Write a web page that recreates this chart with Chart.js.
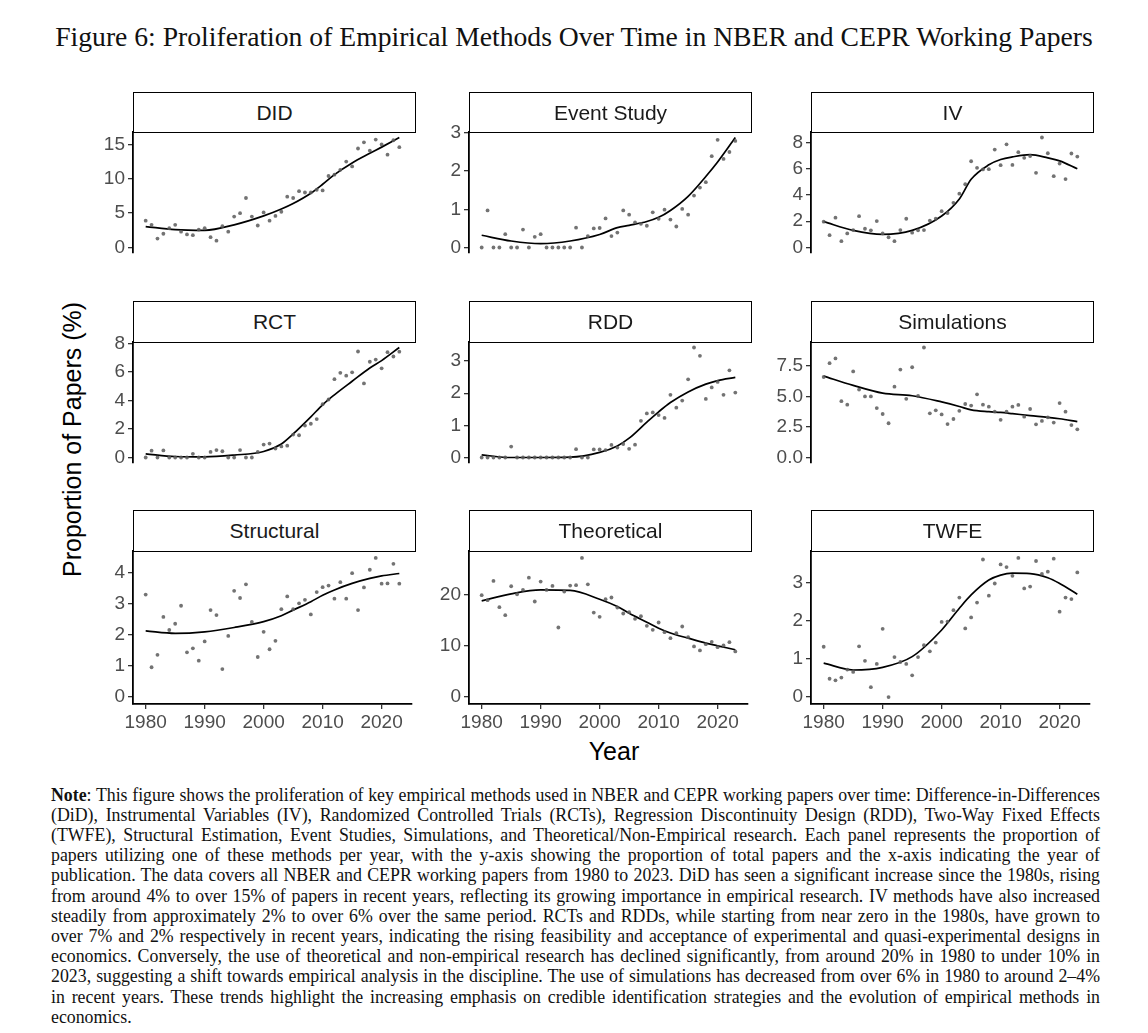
<!DOCTYPE html>
<html>
<head>
<meta charset="utf-8">
<script src="https://cdn.jsdelivr.net/npm/chart.js@4.4.1/dist/chart.umd.min.js"></script>
<style>
  body { margin: 0; background: #fff; width: 1148px; height: 1033px; position: relative; overflow: hidden; font-family: 'Liberation Sans', Arial, sans-serif; }
  #title { position: absolute; left: 0; width: 1148px; text-align: center; white-space: nowrap; font-family: 'Liberation Serif', serif; color: #111; }
  .strip { position: absolute; box-sizing: border-box; border: 1.6px solid #000; background: #fff; display: flex; align-items: center; justify-content: center; font-size: 21px; color: #1a1a1a; z-index: 2; }
  .panel { position: absolute; z-index: 1; }
  #ytitle { position: absolute; left: 60px; top: 577px; transform-origin: 0 0; transform: rotate(-90deg); font-size: 25px; line-height: 25px; white-space: nowrap; color: #000; }
  #xtitle { position: absolute; left: 514px; width: 200px; top: 739px; text-align: center; font-size: 25px; line-height: 25px; color: #000; }
  #note { position: absolute; left: 51px; width: 1049px; font-family: 'Liberation Serif', serif; color: #111; }
  #note div { text-align: justify; text-align-last: justify; white-space: normal; }
  #note div.last { text-align-last: left; }
</style>
</head>
<body>
<div id="title">Figure 6: Proliferation of Empirical Methods Over Time in NBER and CEPR Working Papers</div>
<div id="ytitle">Proportion of Papers (%)</div>
<div id="xtitle">Year</div>
<div id="note">
  <div><b>Note</b>: This figure shows the proliferation of key empirical methods used in NBER and CEPR working papers over time: Difference-in-Differences</div>
  <div>(DiD), Instrumental Variables (IV), Randomized Controlled Trials (RCTs), Regression Discontinuity Design (RDD), Two-Way Fixed Effects</div>
  <div>(TWFE), Structural Estimation, Event Studies, Simulations, and Theoretical/Non-Empirical research. Each panel represents the proportion of</div>
  <div>papers utilizing one of these methods per year, with the y-axis showing the proportion of total papers and the x-axis indicating the year of</div>
  <div>publication. The data covers all NBER and CEPR working papers from 1980 to 2023. DiD has seen a significant increase since the 1980s, rising</div>
  <div>from around 4% to over 15% of papers in recent years, reflecting its growing importance in empirical research. IV methods have also increased</div>
  <div>steadily from approximately 2% to over 6% over the same period. RCTs and RDDs, while starting from near zero in the 1980s, have grown to</div>
  <div>over 7% and 2% respectively in recent years, indicating the rising feasibility and acceptance of experimental and quasi-experimental designs in</div>
  <div>economics. Conversely, the use of theoretical and non-empirical research has declined significantly, from around 20% in 1980 to under 10% in</div>
  <div>2023, suggesting a shift towards empirical analysis in the discipline. The use of simulations has decreased from over 6% in 1980 to around 2–4%</div>
  <div>in recent years. These trends highlight the increasing emphasis on credible identification strategies and the evolution of empirical methods in</div>
  <div class="last">economics.</div>
</div>
<script>
const years = [1980, 1981, 1982, 1983, 1984, 1985, 1986, 1987, 1988, 1989,
               1990, 1991, 1992, 1993, 1994, 1995, 1996, 1997, 1998, 1999,
               2000, 2001, 2002, 2003, 2004, 2005, 2006, 2007, 2008, 2009,
               2010, 2011, 2012, 2013, 2014, 2015, 2016, 2017, 2018, 2019,
               2020, 2021, 2022, 2023];
const fitYears = [1980, 1985, 1990, 1995, 2000, 2003, 2005, 2008, 2010, 2012, 2015, 2018, 2020, 2023];
const xTicks = [1980, 1990, 2000, 2010, 2020];

// yearly share of papers (%), one list per method
const didShare = [3.9, 3.3, 1.3, 2.0, 2.8, 3.3, 2.3, 1.9, 1.8, 2.6,
                  2.8, 1.5, 1.0, 3.1, 2.3, 4.5, 5.0, 7.2, 4.5, 3.2,
                  5.1, 3.9, 4.6, 5.2, 7.4, 7.2, 8.2, 8.0, 8.0, 8.4,
                  8.3, 10.4, 10.6, 11.3, 12.5, 11.8, 14.4, 15.3, 14.1, 15.7,
                  15.0, 13.5, 15.6, 14.6];
const eventShare = [0, 0.97, 0, 0, 0.35, 0, 0, 0.47, 0, 0.28,
                    0.35, 0, 0, 0, 0, 0, 0.52, 0, 0.3, 0.5,
                    0.51, 0.76, 0.3, 0.39, 0.97, 0.86, 0.66, 0.62, 0.57, 0.92,
                    0.75, 0.99, 0.73, 0.55, 1.01, 0.86, 1.36, 1.57, 1.71, 2.39,
                    2.82, 2.32, 2.5, 2.79];
const ivShare = [1.97, 0.94, 2.27, 0.48, 1.07, 1.33, 2.39, 1.43, 1.31, 2.01,
                 1.07, 0.78, 0.48, 1.33, 2.19, 1.13, 1.31, 1.33, 2.05, 2.19,
                 2.77, 2.63, 3.4, 4.1, 4.82, 6.57, 6.07, 5.95, 5.97, 7.46,
                 6.27, 7.86, 6.29, 7.26, 6.83, 6.97, 5.69, 8.38, 7.18, 5.43,
                 6.39, 5.21, 7.16, 6.93];
const rctShare = [0, 0.48, 0, 0.5, 0, 0, 0, 0, 0.26, 0,
                  0, 0.39, 0.52, 0.44, 0, 0, 0.52, 0, 0, 0.39,
                  0.91, 0.98, 0.63, 0.78, 0.83, 1.61, 1.56, 2.24, 2.37, 2.7,
                  3.74, 4.07, 5.5, 5.94, 5.74, 5.98, 7.44, 5.2, 6.72, 6.87,
                  6.26, 7.39, 7.09, 7.43];
const rddShare = [0, 0, 0, 0, 0, 0.34, 0, 0, 0, 0,
                  0, 0, 0, 0, 0, 0, 0.26, 0, 0, 0.25,
                  0.25, 0.23, 0.39, 0.31, 0.42, 0.27, 0.4, 1.14, 1.37, 1.4,
                  1.32, 1.23, 1.95, 1.55, 1.77, 2.43, 3.42, 3.16, 1.82, 2.18,
                  2.35, 1.95, 2.71, 2.02];
const simShare = [6.61, 7.74, 8.13, 4.62, 4.34, 7.07, 5.58, 5.01, 5.01, 4.06,
                  3.57, 2.81, 5.81, 7.22, 4.82, 7.41, 5.05, 9.03, 3.63, 3.87,
                  3.54, 2.74, 3.16, 3.83, 4.39, 4.26, 5.19, 4.34, 4.17, 3.76,
                  3.09, 3.76, 4.17, 4.32, 3.35, 3.98, 2.72, 3.0, 3.3, 2.87,
                  4.47, 3.76, 2.66, 2.31];
const structShare = [3.3, 0.96, 1.36, 2.58, 2.16, 2.36, 2.94, 1.44, 1.57, 1.17,
                     1.79, 2.8, 2.64, 0.9, 1.97, 3.42, 3.19, 3.63, 2.42, 1.29,
                     2.1, 1.54, 1.81, 2.83, 3.24, 2.83, 3.02, 3.13, 2.66, 3.38,
                     3.54, 3.59, 3.17, 3.7, 3.17, 3.99, 2.8, 3.53, 4.1, 4.48,
                     3.65, 3.66, 4.29, 3.65];
const theoShare = [19.87, 18.9, 22.66, 17.53, 15.97, 21.62, 20.06, 20.9, 23.3, 18.64,
                   22.53, 20.9, 21.69, 13.57, 20.58, 21.75, 21.82, 27.14, 22.0, 16.49,
                   15.65, 19.09, 19.42, 17.47, 16.3, 16.56, 15.26, 15.78, 13.9, 13.12,
                   14.55, 12.66, 11.49, 12.47, 13.77, 11.69, 9.87, 9.09, 10.32, 10.78,
                   9.74, 10.06, 10.71, 8.9];
const twfeShare = [1.32, 0.48, 0.44, 0.51, 0.72, 0.66, 1.33, 0.95, 0.26, 0.87,
                   1.79, 0, 1.05, 0.92, 0.87, 0.57, 1.05, 1.36, 1.2, 1.43,
                   1.97, 1.98, 2.28, 2.61, 1.8, 2.09, 2.48, 3.61, 2.66, 2.98,
                   3.48, 3.41, 3.18, 3.65, 2.85, 2.9, 3.57, 3.23, 3.29, 3.63,
                   2.24, 2.61, 2.57, 3.27];

// smoothed trend read at fitYears
const didFit = [3.05, 2.6, 2.5, 3.3, 4.6, 5.6, 6.4, 7.9, 9.2, 10.6, 12.3, 13.7, 14.6, 16.0];
const eventFit = [0.32, 0.17, 0.1, 0.17, 0.34, 0.52, 0.58, 0.68, 0.79, 0.97, 1.34, 1.86, 2.24, 2.88];
const ivFit = [1.97, 1.3, 1.0, 1.3, 2.4, 3.7, 5.2, 6.3, 6.7, 6.9, 7.07, 6.83, 6.6, 6.0];
const rctFit = [0.26, 0.07, 0.04, 0.17, 0.42, 0.95, 1.65, 2.85, 3.7, 4.4, 5.35, 6.28, 6.8, 7.72];
const rddFit = [0.08, 0, 0, 0.01, 0.16, 0.36, 0.6, 1.1, 1.42, 1.71, 2.04, 2.28, 2.39, 2.49];
const simFit = [6.68, 5.92, 5.28, 5.07, 4.56, 4.19, 3.91, 3.76, 3.7, 3.6, 3.44, 3.3, 3.18, 2.94];
const structFit = [2.13, 2.05, 2.1, 2.24, 2.43, 2.62, 2.8, 3.07, 3.28, 3.45, 3.66, 3.82, 3.9, 3.98];
const theoFit = [18.77, 20.13, 20.9, 20.8, 19.09, 17.66, 16.36, 14.61, 13.44, 12.5, 11.49, 10.52, 10.0, 9.22];
const twfeFit = [0.89, 0.71, 0.78, 1.06, 1.76, 2.33, 2.68, 3.07, 3.2, 3.25, 3.24, 3.13, 2.98, 2.7];

const didTicks = [0, 5, 10, 15];
const eventTicks = [0, 1, 2, 3];
const ivTicks = [0, 2, 4, 6, 8];
const rctTicks = [0, 2, 4, 6, 8];
const rddTicks = [0, 1, 2, 3];
const simTicks = [0, 2.5, 5, 7.5];
const structTicks = [0, 1, 2, 3, 4];
const theoTicks = [0, 10, 20];
const twfeTicks = [0, 1, 2, 3];

const panelNames = ['DID', 'Event Study', 'IV', 'RCT', 'RDD', 'Simulations', 'Structural', 'Theoretical', 'TWFE'];
const panelShares = [didShare, eventShare, ivShare, rctShare, rddShare, simShare, structShare, theoShare, twfeShare];
const panelFits = [didFit, eventFit, ivFit, rctFit, rddFit, simFit, structFit, theoFit, twfeFit];
const panelTicks = [didTicks, eventTicks, ivTicks, rctTicks, rddTicks, simTicks, structTicks, theoTicks, twfeTicks];

const colLeft = [133, 469, 811];
const rowTop = [132, 342, 551];
const stripTop = [92, 301, 510];
const plotW = 283, plotH = 153;
const axisW = 46, padTop = 14, padBottom = 14, xAxisH = 32;

Chart.defaults.font.family = "'Liberation Sans', Arial, sans-serif";

function makePanel(i) {
  const col = i % 3, row = Math.floor(i / 3);
  const isBottom = row === 2;
  const shares = panelShares[i];
  const fit = panelFits[i];
  const ticks = panelTicks[i];
  const top = Math.max(...shares, ...fit);

  const strip = document.createElement('div');
  strip.className = 'strip';
  strip.style.left = colLeft[col] + 'px';
  strip.style.top = stripTop[row] + 'px';
  strip.style.width = plotW + 'px';
  strip.style.height = (rowTop[row] - stripTop[row] + 1) + 'px';
  strip.textContent = panelNames[i];
  document.body.appendChild(strip);

  const box = document.createElement('div');
  box.className = 'panel';
  box.style.left = (colLeft[col] - axisW) + 'px';
  box.style.top = (rowTop[row] - padTop) + 'px';
  box.style.width = (axisW + plotW) + 'px';
  box.style.height = (padTop + plotH + (isBottom ? xAxisH : padBottom)) + 'px';
  const canvas = document.createElement('canvas');
  box.appendChild(canvas);
  document.body.appendChild(box);

  const axisGrid = { display: true, drawOnChartArea: false, drawTicks: true, tickLength: 5, color: '#333', lineWidth: 1.3 };
  const axisBorder = { display: true, color: '#000', width: 1.8 };

  new Chart(canvas, {
    type: 'line',
    data: {
      datasets: [
        {
          data: years.map((y, k) => ({ x: y, y: shares[k] })),
          showLine: false,
          pointRadius: 1.9,
          pointBackgroundColor: 'rgba(90,90,90,0.85)',
          pointBorderWidth: 0,
        },
        {
          data: fitYears.map((y, k) => ({ x: y, y: fit[k] })),
          borderColor: '#000',
          borderWidth: 1.7,
          pointRadius: 0,
          cubicInterpolationMode: 'monotone',
          fill: false,
        },
      ],
    },
    options: {
      responsive: true,
      maintainAspectRatio: false,
      animation: false,
      layout: { padding: { top: padTop, bottom: isBottom ? 0 : padBottom, left: 0, right: 0 } },
      plugins: { legend: { display: false }, tooltip: { enabled: false } },
      scales: {
        x: {
          type: 'linear',
          min: 1977.85,
          max: 2025.15,
          display: isBottom,
          grid: axisGrid,
          border: axisBorder,
          afterBuildTicks: s => { s.ticks = xTicks.map(v => ({ value: v })); },
          afterFit: s => { s.height = xAxisH; s.paddingLeft = 0; s.paddingRight = 0; },
          ticks: { autoSkip: false, maxRotation: 0, padding: 2, color: '#4d4d4d', font: { size: 19 }, callback: v => String(v) },
        },
        y: {
          min: -0.05 * top,
          max: 1.05 * top,
          grid: axisGrid,
          border: axisBorder,
          afterBuildTicks: s => { s.ticks = ticks.map(v => ({ value: v })); },
          afterFit: s => { s.width = axisW; s.paddingTop = 0; s.paddingBottom = 0; },
          ticks: { autoSkip: false, padding: 3, color: '#4d4d4d', font: { size: 19 },
                   callback: v => ticks.some(t => t % 1 !== 0) ? v.toFixed(1) : String(v) },
        },
      },
    },
  });
}

panelNames.forEach((n, i) => makePanel(i));

// fit title and note widths to the reference
function fitText() {
  const title = document.getElementById('title');
  const probe = document.createElement('span');
  probe.style.cssText = 'position:absolute;visibility:hidden;white-space:nowrap;';
  document.body.appendChild(probe);

  probe.style.fontFamily = "'Liberation Serif', serif";
  probe.style.fontSize = '26px';
  probe.textContent = title.textContent;
  const tfs = 26 * 1038 / probe.getBoundingClientRect().width;
  title.style.fontSize = tfs + 'px';
  title.style.lineHeight = tfs + 'px';
  title.style.top = (28.3 - 0.1755 * tfs) + 'px';

  const note = document.getElementById('note');
  let maxW = 0;
  note.querySelectorAll('div').forEach(d => {
    probe.innerHTML = d.innerHTML;
    probe.style.fontSize = '17px';
    maxW = Math.max(maxW, probe.getBoundingClientRect().width);
  });
  const nfs = Math.min(19, 17 * 1046 / maxW);
  const lh = 20.2;
  note.style.fontSize = nfs + 'px';
  note.style.lineHeight = lh + 'px';
  note.style.top = (800.7 - ((lh - 1.107 * nfs) / 2 + 0.891 * nfs)) + 'px';
  probe.remove();
}
fitText();
</script>
</body>
</html>
